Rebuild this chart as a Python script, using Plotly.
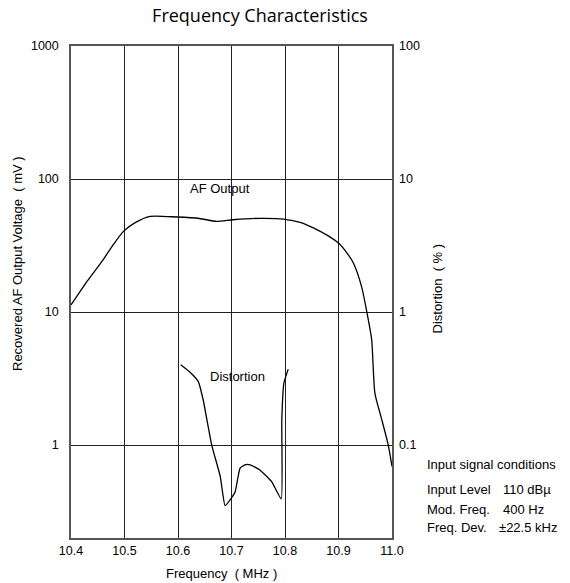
import math
import plotly.graph_objects as go

# AF output (left axis, mV)
freq_af = [10.400, 10.430, 10.460, 10.480, 10.498, 10.520, 10.548, 10.598, 10.640, 10.672,
           10.703, 10.753, 10.797, 10.830, 10.853, 10.880, 10.901, 10.918, 10.928, 10.943,
           10.953, 10.962, 10.968, 10.980, 10.993, 11.000]
af_mv = [11.3, 17.0, 24.7, 32.5, 40.4, 47.0, 52.4, 51.8, 50.5, 48.0,
         49.4, 50.6, 50.0, 47.0, 42.9, 37.5, 32.7, 27.0, 23.3, 15.6,
         10.0, 6.2, 2.46, 1.6, 1.0, 0.69]

# Distortion (right axis, %)
freq_dist = [10.605, 10.620, 10.638, 10.647, 10.663, 10.679, 10.688, 10.700, 10.707, 10.716,
             10.725, 10.735, 10.753, 10.775, 10.793, 10.794, 10.798, 10.806]
dist_pct = [0.402, 0.360, 0.300, 0.219, 0.100, 0.058, 0.035, 0.040, 0.0448, 0.067,
            0.071, 0.071, 0.065, 0.053, 0.0393, 0.155, 0.293, 0.372]

x_ticks = [10.4, 10.5, 10.6, 10.7, 10.8, 10.9, 11.0]
x_ticktext = ["10.4", "10.5", "10.6", "10.7", "10.8", "10.9", "11.0"]
left_ticks = [1, 10, 100, 1000]
left_ticktext = ["1", "10", "100", "1000"]
right_ticks = [0.1, 1, 10, 100]
right_ticktext = ["0.1", "1", "10", "100"]

FONT = "Liberation Sans, Arial, sans-serif"
GRID = "#222222"
TICK = 12.5
LAB = 13

fig = go.Figure()
fig.add_trace(go.Scatter(x=freq_af, y=af_mv, mode="lines",
                         line=dict(color="black", width=1.3, shape="spline", smoothing=0.6),
                         showlegend=False, hoverinfo="skip"))
fig.add_trace(go.Scatter(x=freq_dist, y=dist_pct, mode="lines", yaxis="y2",
                         line=dict(color="black", width=1.3, shape="spline", smoothing=0.4),
                         showlegend=False, hoverinfo="skip"))

fig.update_layout(
    width=570, height=583,
    margin=dict(l=71, r=178, t=46, b=45),
    paper_bgcolor="white", plot_bgcolor="white",
    font=dict(family=FONT, size=LAB, color="black"),
    title=dict(text="Frequency Characteristics", x=260/570, xanchor="center",
               y=1 - 16/583, yanchor="middle",
               font=dict(family="Open Sans, sans-serif", size=18, color="#000", weight=500)),
    xaxis=dict(range=[10.4, 11.0], tickvals=x_ticks, ticktext=x_ticktext,
               showgrid=True, gridcolor=GRID, gridwidth=1,
               showline=True, linecolor="#555", linewidth=1.5, mirror=True,
               ticks="", zeroline=False, tickfont=dict(size=TICK)),
    yaxis=dict(type="log", range=[math.log10(0.2), 3], tickvals=left_ticks,
               ticktext=left_ticktext, showgrid=True, gridcolor=GRID, gridwidth=1,
               showline=True, linecolor="#555", linewidth=1.5, mirror=True,
               ticks="", zeroline=False, ticklabelstandoff=8, tickfont=dict(size=TICK)),
    yaxis2=dict(type="log", range=[math.log10(0.02), 2], tickvals=right_ticks,
                ticktext=right_ticktext, overlaying="y", side="right",
                showgrid=False, showline=False, ticks="", zeroline=False,
                ticklabelstandoff=6, tickfont=dict(size=TICK)),
)

# plot area in pixels: x 71..392, y 46..538
def px(xp):
    return (xp - 71) / 321.0

def py(yp):
    return (538 - yp) / 492.0

ann = []
ann.append(dict(text="Frequency  ( MHz )", x=px(221.5), y=py(573), xref="paper", yref="paper",
                showarrow=False, xanchor="center", yanchor="middle", font=dict(size=LAB)))
ann.append(dict(text="Recovered AF Output Voltage  ( mV )", x=px(17), y=py(264),
                xref="paper", yref="paper", showarrow=False, textangle=-90,
                xanchor="center", yanchor="middle", font=dict(size=LAB)))
ann.append(dict(text="Distortion  ( % )", x=px(437), y=py(288.5),
                xref="paper", yref="paper", showarrow=False, textangle=-90,
                xanchor="center", yanchor="middle", font=dict(size=LAB)))
ann.append(dict(text="AF Output", x=10.678, y=math.log10(84.5), xref="x", yref="y",
                showarrow=False, xanchor="center", yanchor="middle", font=dict(size=LAB)))
ann.append(dict(text="Distortion", x=10.712, y=math.log10(3.26), xref="x", yref="y",
                showarrow=False, xanchor="center", yanchor="middle", font=dict(size=LAB)))
ann.append(dict(text="Input signal conditions", x=px(425), y=py(464),
                xref="paper", yref="paper", showarrow=False, xanchor="left",
                yanchor="middle", font=dict(size=LAB)))
rows = [("Input Level", "110 dBµ", 489, 501), ("Mod. Freq.", "400 Hz", 509, 501),
        ("Freq. Dev.", "±22.5 kHz", 527, 497)]
for a, b, yy, xb in rows:
    ann.append(dict(text=a, x=px(425), y=py(yy), xref="paper", yref="paper",
                    showarrow=False, xanchor="left", yanchor="middle", font=dict(size=LAB)))
    ann.append(dict(text=b, x=px(xb), y=py(yy), xref="paper", yref="paper",
                    showarrow=False, xanchor="left", yanchor="middle", font=dict(size=LAB)))
fig.update_layout(annotations=ann)

fig.write_html("out.html", config={"displayModeBar": False},
               post_script="document.body.style.margin='0';")
